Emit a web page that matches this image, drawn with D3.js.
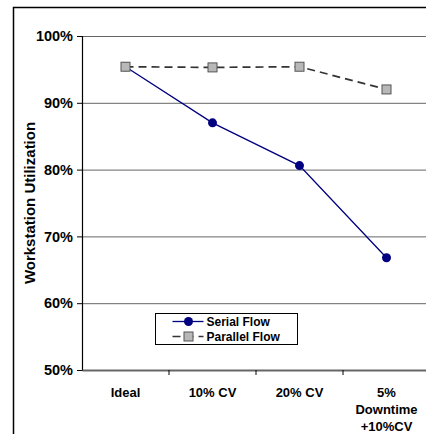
<!DOCTYPE html>
<html>
<head>
<meta charset="utf-8">
<script src="https://cdn.jsdelivr.net/npm/d3@7"></script>
<style>
  body { margin: 0; background: #fff; }
  svg text { font-family: "Liberation Sans", Arial, sans-serif; font-weight: bold; fill: #000; }
</style>
</head>
<body>
<div id="chart"></div>
<script>
// Chart data
const categories = ['Ideal', '10% CV', '20% CV', '5%\nDowntime\n+10%CV'];
const serialFlow = [95.4, 87.0, 80.6, 66.8];
const parallelFlow = [95.4, 95.3, 95.4, 92.0];
const yTicks = [50, 60, 70, 80, 90, 100];
const seriesNames = ['Serial Flow', 'Parallel Flow'];

const width = 426, height = 434;
const margin = {top: 36, left: 82, right: -4, bottom: 64};
const innerW = width - margin.left - margin.right;
const innerH = height - margin.top - margin.bottom;

const svg = d3.select('#chart').append('svg')
    .attr('width', width)
    .attr('height', height);

// outer chart frame (right/bottom edges fall outside the window)
svg.append('rect')
    .attr('x', 13.5).attr('y', 7.5)
    .attr('width', 440).attr('height', 440)
    .attr('fill', 'none')
    .attr('stroke', '#000')
    .attr('stroke-width', 1.5);

const chart = svg.append('g')
    .attr('transform', `translate(${margin.left},${margin.top})`);

const xScale = d3.scaleBand().domain(categories).range([0, innerW]);
const yScale = d3.scaleLinear().domain([50, 100]).range([innerH, 0]);
const xPos = d => xScale(d) + xScale.bandwidth() / 2;

// gridlines
chart.append('g')
    .selectAll('line')
    .data(yTicks.filter(t => t > 50))
    .join('line')
    .attr('x1', 0).attr('x2', innerW)
    .attr('y1', d => yScale(d) + 0.5).attr('y2', d => yScale(d) + 0.5)
    .attr('stroke', '#666')
    .attr('stroke-width', 1);

// y axis
const yAxisG = chart.append('g')
    .call(d3.axisLeft(yScale).tickValues(yTicks).tickSize(5).tickPadding(4).tickFormat(d => d + '%'));
yAxisG.select('.domain').attr('stroke', '#000').attr('stroke-width', 1.2);
yAxisG.selectAll('.tick line').attr('stroke', '#000');
yAxisG.selectAll('text').style('font-size', '14.5px');

// x axis
const xAxisG = chart.append('g')
    .attr('transform', `translate(0,${innerH})`)
    .call(d3.axisBottom(xScale).tickSize(0).tickFormat(''));
xAxisG.select('.domain').attr('stroke', '#666').attr('stroke-width', 2);

chart.append('g')
    .selectAll('line')
    .data(categories.slice(1))
    .join('line')
    .attr('x1', d => xScale(d)).attr('x2', d => xScale(d))
    .attr('y1', innerH).attr('y2', innerH + 5)
    .attr('stroke', '#000');

const xLabels = chart.append('g')
    .selectAll('text')
    .data(categories)
    .join('text')
    .attr('x', d => xPos(d))
    .attr('y', innerH + 27)
    .attr('text-anchor', 'middle')
    .style('font-size', '13px');
xLabels.each(function (d) {
    const lines = d.split('\n');
    d3.select(this).selectAll('tspan')
        .data(lines)
        .join('tspan')
        .attr('x', xPos(d))
        .attr('dy', (l, i) => i === 0 ? 0 : 17)
        .text(l => l);
});

// y axis title
svg.append('text')
    .attr('transform', `translate(35,${margin.top + innerH / 2}) rotate(-90)`)
    .attr('text-anchor', 'middle')
    .style('font-size', '15px')
    .text('Workstation Utilization');

// lines
const line = d3.line()
    .x((d, i) => xPos(categories[i]))
    .y(d => yScale(d));

chart.append('path')
    .datum(parallelFlow)
    .attr('d', line)
    .attr('fill', 'none')
    .attr('stroke', '#333')
    .attr('stroke-width', 1.7)
    .attr('stroke-dasharray', '8,5');

chart.append('path')
    .datum(serialFlow)
    .attr('d', line)
    .attr('fill', 'none')
    .attr('stroke', '#000080')
    .attr('stroke-width', 1.3);

chart.selectAll('.serial-pt')
    .data(serialFlow)
    .join('circle')
    .attr('class', 'serial-pt')
    .attr('cx', (d, i) => xPos(categories[i]))
    .attr('cy', d => yScale(d))
    .attr('r', 4.5)
    .attr('fill', '#000080');

chart.selectAll('.parallel-pt')
    .data(parallelFlow)
    .join('rect')
    .attr('class', 'parallel-pt')
    .attr('x', (d, i) => xPos(categories[i]) - 4.5)
    .attr('y', d => yScale(d) - 4.5)
    .attr('width', 9).attr('height', 9)
    .attr('fill', '#b8b8b8')
    .attr('stroke', '#555')
    .attr('stroke-width', 1);

// legend
const legend = svg.append('g').attr('transform', 'translate(155.5,313.5)');
legend.append('rect')
    .attr('width', 142).attr('height', 31)
    .attr('fill', '#fff')
    .attr('stroke', '#000')
    .attr('stroke-width', 1);

const rows = legend.selectAll('.row')
    .data(seriesNames)
    .join('g')
    .attr('transform', (d, i) => `translate(0,${8 + i * 15})`);

rows.append('line')
    .attr('x1', 17).attr('x2', 48)
    .attr('y1', 0).attr('y2', 0)
    .attr('stroke', (d, i) => i === 0 ? '#000080' : '#333')
    .attr('stroke-width', (d, i) => i === 0 ? 1.3 : 1.7)
    .attr('stroke-dasharray', (d, i) => i === 0 ? null : '8,5');

rows.each(function (d, i) {
    const g = d3.select(this);
    if (i === 0) {
        g.append('circle').attr('cx', 33).attr('cy', 0).attr('r', 4.5).attr('fill', '#000080');
    } else {
        g.append('rect').attr('x', 28.5).attr('y', -4.5).attr('width', 9).attr('height', 9)
            .attr('fill', '#b8b8b8').attr('stroke', '#555');
    }
});

rows.append('text')
    .attr('x', 51)
    .attr('y', 4.5)
    .style('font-size', '12px')
    .text(d => d);
</script>
</body>
</html>
